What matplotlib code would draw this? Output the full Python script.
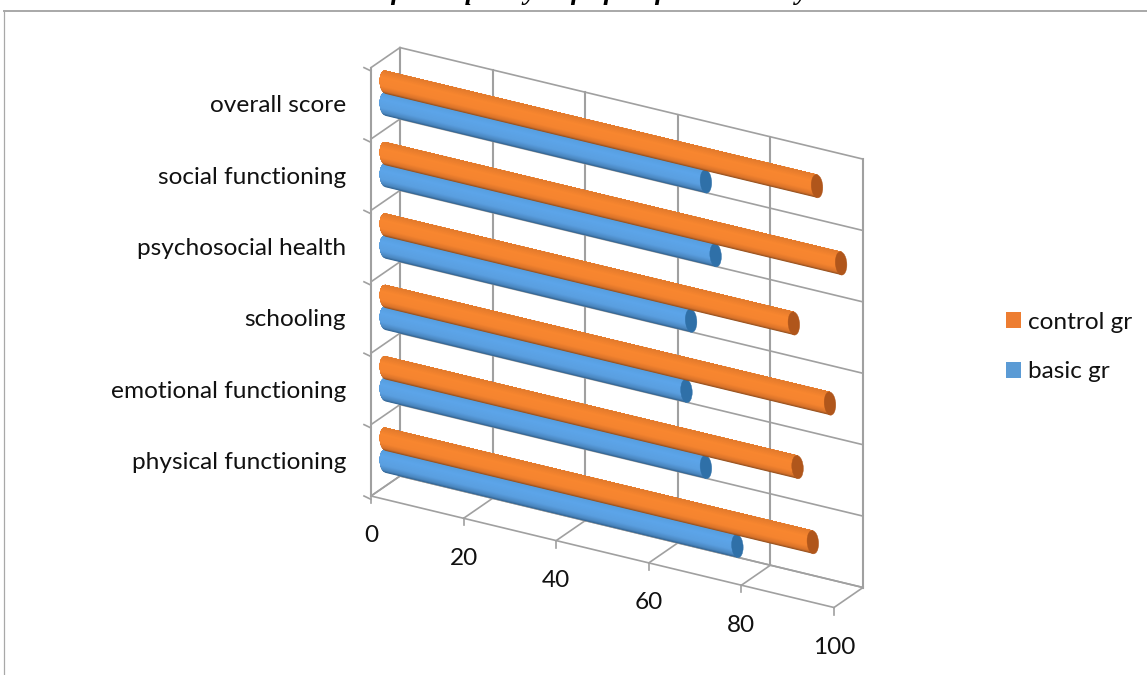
# 3D style horizontal cylinder chart, built with affine transforms
import numpy as np
import matplotlib
matplotlib.use('Agg')
import matplotlib.pyplot as plt
from matplotlib.colors import to_rgb
from matplotlib.patches import Ellipse, Patch
from matplotlib.transforms import Affine2D

categories = ['physical functioning', 'emotional functioning', 'schooling',
              'psychosocial health', 'social functioning', 'overall score']
control_gr = [92.3, 89, 96, 88.2, 98.4, 93.2]
basic_gr = [76, 69.2, 65, 66, 71.3, 69.2]
value_ticks = [0, 20, 40, 60, 80, 100]
heading_words = ['of', 'quality', 'of', 'life', 'of', 'children', 'by']
heading_x = [378, 459, 558, 588, 642, 672, 783]

plt.rcParams['font.family'] = ['Lato', 'DejaVu Sans']

GRID = '#a0a0a0'
TXT = '#111111'
FS = 17.6

fig = plt.figure(figsize=(11.47, 6.75), dpi=100)
ax = fig.add_axes([0, 0, 1, 1])
ax.set_xlim(0, 1147)
ax.set_ylim(675, 0)
ax.axis('off')

# pixel geometry of the box
X0, Y0 = 371, 496
DX, DY = 4.63, 1.115   # per value unit
CH = 71.4              # per category
ZX, ZY = 29, -20       # front to back


def wall(d):
    # (value, category) at depth d
    return Affine2D.from_values(DX, DY, 0, -CH, X0 + ZX * d, Y0 + ZY * d) + ax.transData


side = Affine2D.from_values(ZX, ZY, 0, -CH, X0, Y0) + ax.transData    # (depth, category)
floor = Affine2D.from_values(DX, DY, ZX, ZY, X0, Y0) + ax.transData   # (value, depth)

n_cat = len(categories)
glw = 1.2
tick_px = 7

# back wall
for v in value_ticks:
    ax.plot([v, v], [0, n_cat], color=GRID, lw=1.5, transform=wall(1), zorder=1)
for c in range(n_cat + 1):
    ax.plot([0, 100], [c, c], color=GRID, lw=glw, transform=wall(1), zorder=1)
    ax.plot([0, 1], [c, c], color=GRID, lw=glw, transform=side, zorder=1)
    # short horizontal tick left of the wall
    tick = wall(0) + Affine2D().translate(-tick_px, 0)
    ax.plot([0, tick_px / DX], [c, c - tick_px * DY / DX / CH], color=GRID, lw=glw, transform=tick, zorder=1)

# left wall front edge and floor
ax.plot([0, 0], [0, n_cat], color=GRID, lw=1.5, transform=side, zorder=1)
for v in value_ticks:
    ax.plot([v, v], [0, 1], color=GRID, lw=glw, transform=floor, zorder=1)
    ax.plot([v, v], [0, -tick_px / CH], color=GRID, lw=glw, transform=wall(0), zorder=1)
ax.plot([0, 100], [0, 0], color=GRID, lw=glw, transform=floor, zorder=1)
ax.plot([0, 100], [1, 1], color=GRID, lw=glw, transform=floor, zorder=1)

# bars sit half way into the box
mid = wall(0.5)
half_h = 0.162
cap_w = 1.25


def cylinder(cat_y, val, stops, cap_color, zorder):
    ts = np.linspace(-1, 1, 41)
    pos = [0, 0.1, 0.3, 0.7, 1]
    rgb = np.array([to_rgb(c) for c in stops])
    # painted bottom to top, each pass covers everything above it
    for k in range(len(ts) - 1):
        tm = (ts[k] + ts[k + 1]) / 2
        col = [np.interp((tm + 1) / 2, pos, rgb[:, i]) for i in range(3)]
        up = ts[k:]
        left = -cap_w * np.sqrt(1 - up ** 2)
        xs = np.r_[left, val, val]
        ys = np.r_[cat_y + up * half_h, cat_y + half_h, cat_y + ts[k] * half_h]
        ax.fill(xs, ys, facecolor=col, lw=0, transform=mid, zorder=zorder)
    ax.add_patch(Ellipse((val, cat_y), 2 * cap_w, 2 * half_h, facecolor=cap_color,
                         edgecolor=cap_color, lw=0.3, transform=mid, zorder=zorder + 0.5))


orange_stops = ['#8a4c1e', '#d8722a', '#f5842f', '#f8862f', '#e37a2c']
blue_stops = ['#2f5f8c', '#4a86bf', '#5a9fe0', '#5ca5ea', '#569ddd']

for i in range(n_cat):
    cylinder(i + 0.5 - 0.154, basic_gr[i], blue_stops, '#2f70a8', 3 + 2 * (n_cat - i))
for i in range(n_cat):
    cylinder(i + 0.5 + 0.154, control_gr[i], orange_stops, '#b0561b', 4 + 2 * (n_cat - i))

# labels
for i, name in enumerate(categories):
    ax.annotate(name, xy=(0, i + 0.5), xycoords=side, xytext=(-25, -2.5),
                textcoords='offset pixels', ha='right', va='center', fontsize=FS, color=TXT)
for v in value_ticks:
    ax.annotate(str(v), xy=(v, 0), xycoords=wall(0), xytext=(0, -40),
                textcoords='offset pixels', ha='center', va='center', fontsize=FS, color=TXT)

# legend
handles = [Patch(facecolor='#ed7d31', label='control gr'), Patch(facecolor='#5b9bd5', label='basic gr')]
ax.legend(handles=handles, loc='center left', bbox_to_anchor=(1006 / 1147, 1 - 347 / 675), frameon=False,
          fontsize=FS, labelcolor=TXT, handlelength=0.62, handleheight=0.62, handletextpad=0.3,
          labelspacing=1.17, borderpad=0, borderaxespad=0)

# chart frame, cut by the edge of the figure
ax.plot([4, 1147], [11, 11], color='#a8a8a8', lw=1.4, zorder=1)
ax.plot([4, 4], [11, 675], color='#a8a8a8', lw=0.9, zorder=1)

# heading sits above the top edge, only descenders show
for word, wx in zip(heading_words, heading_x):
    ax.text(wx, -1, word, family='Liberation Serif', fontsize=20, fontweight='bold', fontstyle='italic',
            color='black', ha='left', va='baseline', clip_on=False)

fig.savefig('out.png', dpi=100)
